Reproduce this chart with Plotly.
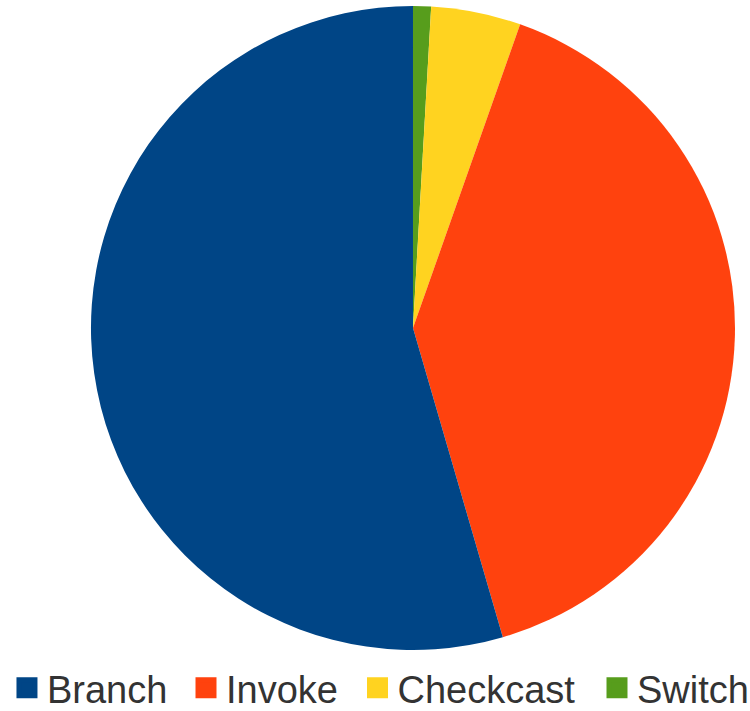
import plotly.graph_objects as go

categories = ["Branch", "Invoke", "Checkcast", "Switch"]
values = [54.5, 40.1, 4.5, 0.9]
colors = ["#004586", "#ff420e", "#ffd320", "#579d1c"]

# legend entry left edges (paper fraction), one legend per entry
legend_x = [0.0093, 0.248, 0.4767, 0.796]

fig = go.Figure()
fig.add_trace(go.Pie(
    labels=categories[::-1],
    values=values[::-1],
    marker=dict(colors=colors[::-1], line=dict(width=0)),
    sort=False,
    direction="clockwise",
    rotation=0,
    textinfo="none",
    hoverinfo="label+percent",
    showlegend=False,
    domain=dict(x=[0.1213, 0.98], y=[0.0858, 0.9916]),
))

legend_ids = ["legend", "legend2", "legend3", "legend4"]
for name, col, lid in zip(categories, colors, legend_ids):
    fig.add_trace(go.Scatter(
        x=[None], y=[None], mode="markers", name=name,
        marker=dict(symbol="square", size=16, color=col, line=dict(width=5, color=col)),
        showlegend=True, legend=lid,
    ))

legend_style = dict(
    orientation="h", xanchor="left", y=-0.012, yanchor="bottom",
    font=dict(family="Liberation Sans", size=38, color="#333333"),
    itemsizing="trace", bgcolor="rgba(0,0,0,0)",
)
layout_legends = {lid: dict(x=lx, **legend_style) for lid, lx in zip(legend_ids, legend_x)}

fig.update_layout(
    width=750, height=711,
    margin=dict(l=0, r=0, t=0, b=0, autoexpand=False),
    paper_bgcolor="white", plot_bgcolor="white",
    xaxis=dict(visible=False), yaxis=dict(visible=False),
    showlegend=True,
    **layout_legends,
)

fig.write_html("out.html", config={"displayModeBar": False},
               post_script="document.body.style.margin='0';")
